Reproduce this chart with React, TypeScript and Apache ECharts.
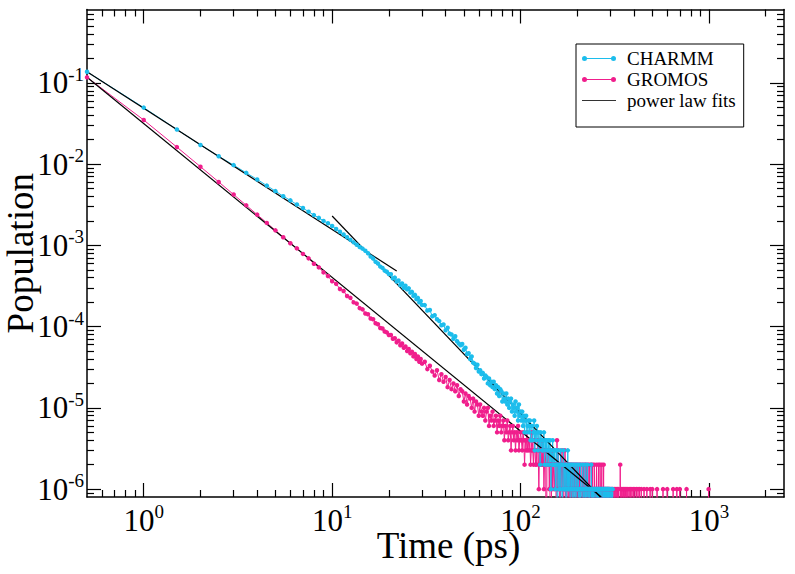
import React, { useEffect, useRef } from "react";
import * as echarts from "echarts";

// ---------- axes ----------
const X_MIN = 0.5;
const X_MAX = 2500;
const Y_MIN = 8e-7;
const Y_MAX = 0.8;

const xMajorTicks = [1, 10, 100, 1000];
const xMinorTicks = [
  0.6, 0.7, 0.8, 0.9,
  2, 3, 4, 5, 6, 7, 8, 9,
  20, 30, 40, 50, 60, 70, 80, 90,
  200, 300, 400, 500, 600, 700, 800, 900,
  2000,
];
const yMajorTicks = [1e-6, 1e-5, 1e-4, 1e-3, 1e-2, 1e-1];
const yMinorTicks = [
  9e-7,
  2e-6, 3e-6, 4e-6, 5e-6, 6e-6, 7e-6, 8e-6, 9e-6,
  2e-5, 3e-5, 4e-5, 5e-5, 6e-5, 7e-5, 8e-5, 9e-5,
  2e-4, 3e-4, 4e-4, 5e-4, 6e-4, 7e-4, 8e-4, 9e-4,
  2e-3, 3e-3, 4e-3, 5e-3, 6e-3, 7e-3, 8e-3, 9e-3,
  0.02, 0.03, 0.04, 0.05, 0.06, 0.07, 0.08, 0.09,
  0.2, 0.3, 0.4, 0.5, 0.6, 0.7,
];

// ---------- data ----------
// t = 0.5 ... 20 ps, every 0.5 ps (population)
const charmmHead = [
  0.137, 0.0496, 0.0267, 0.0172, 0.0125, 0.00972, 0.00781, 0.00648, 0.00544, 0.00465,
  0.00403, 0.00358, 0.00318, 0.00288, 0.0026, 0.00236, 0.00218, 0.002, 0.00187, 0.00173,
  0.00159, 0.00147, 0.00136, 0.00126, 0.00117, 0.00109, 0.00102, 0.000957, 0.000912, 0.000859,
  0.000801, 0.000728, 0.00069, 0.000629, 0.000598, 0.000548, 0.000528, 0.000489, 0.000474, 0.000443,
];
const gromosHead = [
  0.117, 0.0349, 0.0162, 0.0093, 0.00603, 0.00422, 0.00311, 0.00239, 0.00189, 0.00153,
  0.00126, 0.00106, 0.000918, 0.000785, 0.000692, 0.000594, 0.000536, 0.000465, 0.000419, 0.000362,
  0.000336, 0.000291, 0.000274, 0.000238, 0.000226, 0.000199, 0.000192, 0.000169, 0.000163, 0.000145,
  0.000142, 0.000126, 0.000123, 0.00011, 0.000107, 0.000096, 0.000095, 0.000087, 0.000085, 0.000079,
];
// t = 20.5 ... 30 ps, every 0.5 ps (population in units of 1e-6)
const charmmMidPpm = [441, 392, 401, 359, 369, 326, 339, 301, 318, 287, 296, 262, 268, 239, 246, 218, 226, 199, 207, 185];
const gromosMidPpm = [79, 71, 72, 64, 67, 59, 62, 55, 57, 50, 53, 47, 49, 43, 46, 40, 43, 37, 40, 35];
// t = 31 ... 100 ps, every 1 ps (units of 1e-6)
const charmmLatePpm = [
  184, 158, 160, 134, 138, 123, 117, 104, 106, 90,
  97, 82, 80, 71, 76, 66, 62, 59, 61, 52,
  55, 46, 47, 40, 43, 36, 35, 31, 34, 28,
  29, 26, 27, 23, 25, 24, 20, 23, 19, 21,
  18, 21, 17, 19, 15, 18, 14, 17, 16, 12,
  15, 13, 12, 15, 11, 13, 10, 12, 13, 9,
  11, 10, 8, 12, 9, 10, 7, 11, 8, 9,
];
const gromosLatePpm = [
  37, 30, 33, 28, 25, 29, 22, 26, 21, 24,
  18, 22, 17, 20, 16, 19, 14, 17, 16, 12,
  15, 11, 14, 13, 10, 13, 9, 12, 11, 8,
  11, 9, 8, 10, 7, 9, 10, 6, 8, 7,
  9, 6, 7, 8, 5, 7, 6, 8, 5, 6,
  7, 4, 6, 5, 7, 4, 5, 6, 3, 5,
  6, 4, 5, 3, 5, 4, 6, 3, 4, 5,
];
// t = 101 ... 310 ps (CHARMM), every 1 ps (units of 1e-6, 0 = empty)
const charmmTailPpm = [
  7, 9, 6, 8, 5, 7, 8, 5, 6, 7,
  5, 7, 4, 6, 6, 4, 5, 7, 3, 5,
  4, 6, 5, 3, 5, 4, 2, 5, 4, 3,
  4, 3, 5, 2, 4, 3, 4, 2, 3, 4,
  3, 2, 4, 3, 1, 3, 2, 4, 2, 3,
  2, 3, 1, 2, 3, 2, 0, 3, 2, 1,
  2, 1, 3, 2, 2, 0, 1, 2, 3, 1,
  2, 1, 1, 2, 0, 2, 1, 3, 1, 2,
  1, 2, 1, 0, 2, 1, 1, 2, 0, 1,
  2, 1, 0, 1, 2, 1, 1, 0, 2, 1,
  1, 1, 2, 0, 1, 1, 0, 2, 1, 1,
  0, 1, 1, 2, 1, 0, 1, 1, 0, 2,
  1, 1, 0, 1, 1, 2, 1, 0, 1, 1,
  1, 0, 1, 1, 1, 0, 2, 1, 1, 0,
  1, 1, 0, 1, 1, 1, 0, 1, 1, 1,
  0, 1, 1, 1, 0, 1, 1, 0, 1, 1,
  1, 0, 1, 1, 0, 1, 1, 1, 0, 1,
  1, 1, 0, 1, 0, 1, 1, 0, 1, 1,
  0, 1, 1, 0, 1, 1, 0, 1, 0, 1,
  1, 0, 1, 1, 0, 0, 1, 0, 1, 0,
  0, 1, 0, 0, 1, 0, 0, 1, 0, 0,
];
// t = 101 ... 300 ps (GROMOS), every 1 ps (units of 1e-6)
const gromosTailPpm = [
  4, 3, 5, 4, 2, 4, 3, 5, 3, 4,
  3, 4, 2, 3, 5, 3, 2, 4, 3, 2,
  3, 2, 4, 3, 1, 3, 2, 3, 2, 4,
  2, 3, 1, 2, 3, 2, 0, 3, 2, 2,
  3, 1, 2, 2, 0, 2, 3, 1, 2, 2,
  1, 2, 2, 2, 0, 4, 1, 2, 3, 1,
  2, 0, 2, 1, 2, 3, 1, 2, 0, 2,
  1, 3, 2, 0, 2, 1, 2, 1, 0, 2,
  2, 1, 0, 2, 1, 2, 0, 1, 2, 1,
  0, 2, 1, 1, 2, 0, 1, 2, 1, 0,
  2, 1, 1, 0, 2, 1, 0, 2, 1, 1,
  0, 2, 1, 0, 1, 2, 1, 0, 1, 2,
  1, 0, 2, 1, 1, 0, 1, 2, 0, 1,
  1, 2, 0, 1, 1, 0, 2, 1, 0, 1,
  2, 0, 1, 1, 0, 2, 1, 0, 1, 1,
  0, 1, 2, 0, 1, 1, 0, 1, 2, 0,
  1, 1, 0, 2, 1, 0, 1, 0, 1, 2,
  0, 1, 1, 0, 1, 2, 0, 1, 0, 1,
  1, 0, 1, 1, 0, 1, 0, 1, 1, 0,
  1, 0, 1, 0, 1, 1, 0, 0, 1, 0,
];
// GROMOS, t = 301 ... 1000 ps: the non-empty 1-ps samples [t, units of 1e-6]
const gromosSparsePpm: [number, number][] = [
  [303, 1], [306, 1], [309, 1], [313, 1], [316, 1], [320, 1], [324, 1], [327, 1], [331, 1],
  [338, 2], [342, 1], [346, 1], [351, 1], [355, 1], [360, 1], [366, 1], [371, 1], [377, 1],
  [384, 1], [390, 1], [397, 1], [404, 1], [412, 1], [420, 1], [428, 1], [437, 1], [452, 1],
  [468, 1], [487, 1], [500, 1], [530, 1], [570, 1], [600, 1], [645, 1], [675, 1], [700, 1],
  [760, 1], [995, 1],
];
// power-law fits: end points [t, population]
const fitCharmmShort: [number, number][] = [[0.5, 0.137], [22, 4.84e-4]];
const fitCharmmLong: [number, number][] = [[10, 2.3e-3], [265, 8e-7]];
const fitGromos: [number, number][] = [[0.5, 0.117], [268, 8e-7]];

// ---------- styling ----------
const CYAN = "#1cbdec";
const PINK = "#f01e8c";
const SERIF = "'Liberation Serif', 'Times New Roman', serif";
const FLOOR = 1e-9; // an empty sample is drawn below the axis (log scale)

function seg(t0: number, dt: number, vals: number[], unit: number) {
  return vals.map((v, i) => [t0 + i * dt, v * unit]);
}
function withFloor(rows: number[][]) {
  return rows.map(([t, p]) => [t, p > 0 ? p : FLOOR]);
}

const charmmData = withFloor([
  ...seg(0.5, 0.5, charmmHead, 1),
  ...seg(20.5, 0.5, charmmMidPpm, 1e-6),
  ...seg(31, 1, charmmLatePpm, 1e-6),
  ...seg(101, 1, charmmTailPpm, 1e-6),
]);

const sparseMap = new Map(gromosSparsePpm.map(([t, v]) => [t, v]));
const gromosLateRows: number[][] = [];
for (let t = 301; t <= 1000; t++) gromosLateRows.push([t, (sparseMap.get(t) || 0) * 1e-6]);

const gromosData = withFloor([
  ...seg(0.5, 0.5, gromosHead, 1),
  ...seg(20.5, 0.5, gromosMidPpm, 1e-6),
  ...seg(31, 1, gromosLatePpm, 1e-6),
  ...seg(101, 1, gromosTailPpm, 1e-6),
  ...gromosLateRows,
]);

const LEGEND_ICON =
  "path://M0,2.5 A2.5,2.5 0 1,1 5,2.5 A2.5,2.5 0 1,1 0,2.5 Z M29,2.5 A2.5,2.5 0 1,1 34,2.5 A2.5,2.5 0 1,1 29,2.5 Z M2.5,2 L31.5,2 L31.5,3 L2.5,3 Z";
const LEGEND_LINE_ICON = "path://M0,0 L30,0 L30,1 L0,1 Z";

const labelRich = {
  b: { fontFamily: SERIF, fontSize: 31, color: "#000", lineHeight: 36 },
  s: { fontFamily: SERIF, fontSize: 19, color: "#000", lineHeight: 19, verticalAlign: "top" },
};
const powFormatter = (v: number) => `{b|10}{s|${Math.round(Math.log10(v))}}`;

function logAxis(min: number, max: number) {
  return {
    type: "log",
    logBase: 10,
    min,
    max,
    splitLine: { show: false },
    minorTick: { show: false },
    minorSplitLine: { show: false },
  };
}
const frameLine = { show: true, onZero: false, lineStyle: { color: "#000", width: 1.5 } };
const noLine = { show: false };
const majorTick = (vals: number[]) => ({
  show: true, inside: true, length: 14, customValues: vals, lineStyle: { color: "#000", width: 1.2 },
});
const minorTickStyle = (vals: number[]) => ({
  show: true, inside: true, length: 7, customValues: vals, lineStyle: { color: "#000", width: 1.2 },
});

export default function App() {
  const ref = useRef<HTMLDivElement>(null);
  useEffect(() => {
    if (!ref.current) return;
    const chart = echarts.init(ref.current, null, { renderer: "svg" });
    const xa = logAxis(X_MIN, X_MAX);
    const ya = logAxis(Y_MIN, Y_MAX);
    const fitSeries = [fitCharmmShort, fitCharmmLong, fitGromos].map((d) => ({
      name: "power law fits",
      type: "line",
      data: d,
      symbol: "none",
      clip: true,
      lineStyle: { color: "#000", width: 1.2 },
      itemStyle: { color: "#000" },
      emphasis: { disabled: true },
    }));
    chart.setOption({
      animation: false,
      backgroundColor: "#fff",
      grid: { left: 87, right: 11, top: 9.5, bottom: 77, containLabel: false, outerBoundsMode: "none" },
      legend: {
        orient: "vertical",
        left: 576,
        top: 44,
        padding: [4, 8, 16, 6],
        itemWidth: 34,
        itemHeight: 5,
        itemGap: 0,
        borderColor: "#000",
        borderWidth: 1,
        borderRadius: 0,
        backgroundColor: "#fff",
        selectedMode: false,
        textStyle: { fontFamily: SERIF, fontSize: 19, color: "#000", lineHeight: 21, padding: [0, 0, 0, 6] },
        data: [
          { name: "CHARMM", icon: LEGEND_ICON, itemStyle: { color: CYAN, borderWidth: 0 } },
          { name: "GROMOS", icon: LEGEND_ICON, itemStyle: { color: PINK, borderWidth: 0 } },
          { name: "power law fits", icon: LEGEND_LINE_ICON, itemStyle: { color: "#333", borderWidth: 0 } },
        ],
      },
      xAxis: [
        {
          ...xa,
          position: "bottom",
          axisLine: frameLine,
          axisTick: majorTick(xMajorTicks),
          axisLabel: { show: true, customValues: xMajorTicks, formatter: powFormatter, rich: labelRich, margin: 5 },
          name: "Time (ps)",
          nameLocation: "middle",
          nameGap: 30,
          nameMoveOverlap: false,
          nameTextStyle: { fontFamily: SERIF, fontSize: 37, color: "#000", padding: [0, 0, 0, 26] },
        },
        { ...xa, position: "bottom", axisLine: noLine, axisTick: minorTickStyle(xMinorTicks), axisLabel: { show: false } },
        { ...xa, position: "top", axisLine: frameLine, axisTick: majorTick(xMajorTicks), axisLabel: { show: false } },
        { ...xa, position: "top", axisLine: noLine, axisTick: minorTickStyle(xMinorTicks), axisLabel: { show: false } },
      ],
      yAxis: [
        {
          ...ya,
          position: "left",
          axisLine: frameLine,
          axisTick: majorTick(yMajorTicks),
          axisLabel: { show: true, customValues: yMajorTicks, formatter: powFormatter, rich: labelRich, margin: 3 },
          name: "Population",
          nameLocation: "middle",
          nameGap: 48,
          nameMoveOverlap: false,
          nameTextStyle: { fontFamily: SERIF, fontSize: 37, color: "#000" },
        },
        { ...ya, position: "left", axisLine: noLine, axisTick: minorTickStyle(yMinorTicks), axisLabel: { show: false } },
        { ...ya, position: "right", axisLine: frameLine, axisTick: majorTick(yMajorTicks), axisLabel: { show: false } },
        { ...ya, position: "right", axisLine: noLine, axisTick: minorTickStyle(yMinorTicks), axisLabel: { show: false } },
      ],
      series: [
        {
          name: "GROMOS",
          type: "line",
          data: gromosData,
          symbol: "circle",
          symbolSize: 4.5,
          showSymbol: true,
          clip: true,
          lineStyle: { color: PINK, width: 1 },
          itemStyle: { color: PINK },
          emphasis: { disabled: true },
        },
        {
          name: "CHARMM",
          type: "line",
          data: charmmData,
          symbol: "circle",
          symbolSize: 4.5,
          showSymbol: true,
          clip: true,
          lineStyle: { color: CYAN, width: 1 },
          itemStyle: { color: CYAN },
          emphasis: { disabled: true },
        },
        ...fitSeries,
      ],
    });
    return () => chart.dispose();
  }, []);
  return (
    <div
      ref={ref}
      style={{ position: "fixed", left: 0, top: 0, width: 795, height: 574, background: "#fff" }}
    />
  );
}
